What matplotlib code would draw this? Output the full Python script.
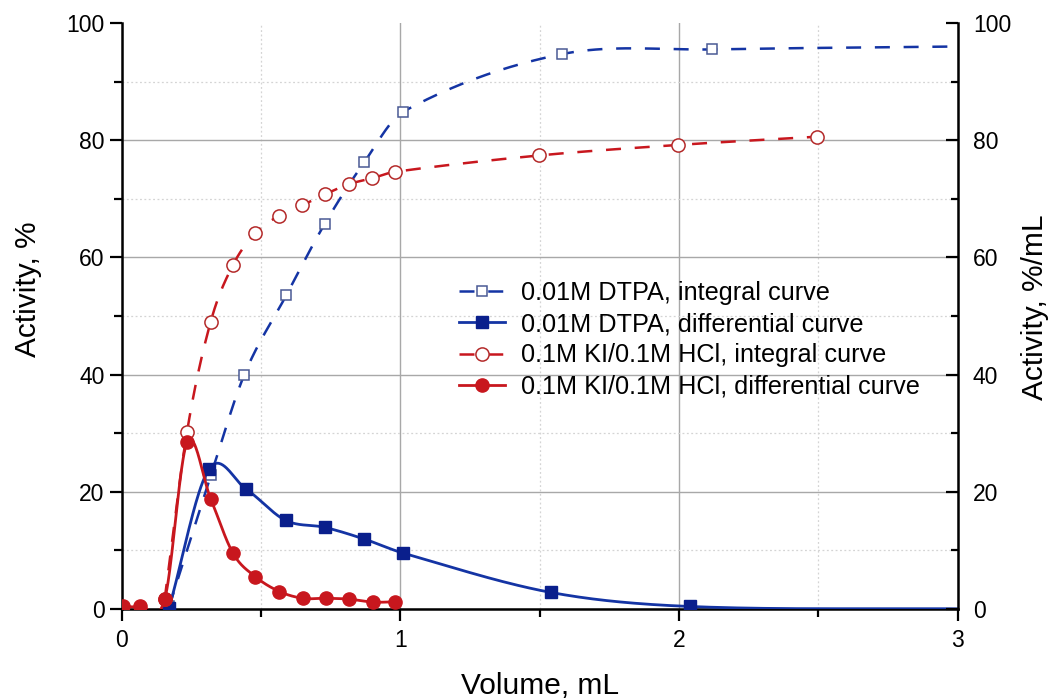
import numpy as np
import matplotlib
matplotlib.use('Agg')
import matplotlib.pyplot as plt
from matplotlib.lines import Line2D

plt.rcParams['font.family'] = ['Liberation Sans', 'DejaVu Sans']

# 0.01M DTPA
dtpa_int_x = [0.17, 0.32, 0.44, 0.59, 0.728, 0.871, 1.011, 1.58, 2.117]
dtpa_int_y = [0.4, 22.8, 40.0, 53.5, 65.7, 76.3, 84.9, 94.7, 95.5]
dtpa_int_end = (3.0, 96.0)          # curve runs on to the axis edge, no marker
dtpa_dif_x = [0.17, 0.312, 0.447, 0.588, 0.729, 0.871, 1.011, 1.54, 2.04]
dtpa_dif_y = [0.2, 23.8, 20.4, 15.1, 13.9, 11.9, 9.5, 2.8, 0.4]
dtpa_dif_end = (3.0, 0.0)

# 0.1M KI/0.1M HCl
ki_int_x = [0.154, 0.234, 0.319, 0.399, 0.479, 0.564, 0.648, 0.731, 0.815, 0.898, 0.980, 1.498, 1.998, 2.496]
ki_int_y = [1.7, 30.2, 49.0, 58.7, 64.1, 67.1, 68.9, 70.8, 72.5, 73.5, 74.6, 77.4, 79.2, 80.6]
ki_dif_x = [0.005, 0.067, 0.154, 0.234, 0.319, 0.399, 0.479, 0.566, 0.650, 0.733, 0.817, 0.901, 0.982]
ki_dif_y = [0.4, 0.4, 1.65, 28.4, 18.8, 9.5, 5.5, 2.95, 1.8, 1.8, 1.65, 1.15, 1.2]

labels = ['0.01M DTPA, integral curve', '0.01M DTPA, differential curve',
          '0.1M KI/0.1M HCl, integral curve', '0.1M KI/0.1M HCl, differential curve']

BLUE = '#1434a4'
BLUE_D = '#0a1f8c'
BLUE_O = '#4a5a94'
RED = '#c8171e'
RED_O = '#b42a2a'


def spline(x, y, n=40):
    # cubic hermite through the points, like Origin's spline connect
    x = np.asarray(x, float)
    y = np.asarray(y, float)
    m = np.empty_like(y)
    m[1:-1] = (y[2:] - y[:-2]) / (x[2:] - x[:-2])
    m[0] = (y[1] - y[0]) / (x[1] - x[0])
    m[-1] = (y[-1] - y[-2]) / (x[-1] - x[-2])
    t = np.linspace(0, 1, n, endpoint=False)
    h00 = 2 * t**3 - 3 * t**2 + 1
    h10 = t**3 - 2 * t**2 + t
    h01 = -2 * t**3 + 3 * t**2
    h11 = t**3 - t**2
    xs, ys = [], []
    for i in range(len(x) - 1):
        h = x[i + 1] - x[i]
        xs.append(x[i] + t * h)
        ys.append(h00 * y[i] + h10 * h * m[i] + h01 * y[i + 1] + h11 * h * m[i + 1])
    xs.append([x[-1]])
    ys.append([y[-1]])
    return np.concatenate(xs), np.concatenate(ys)


fig = plt.figure(figsize=(10.5, 6.99), dpi=100)
ax = fig.add_axes([0.116, 0.129, 0.796, 0.838])

dash = (0, (6, 5.5))
lw_d = 1.8
lw_s = 2.0

# DTPA integral
sx, sy = spline(dtpa_int_x + [dtpa_int_end[0]], dtpa_int_y + [dtpa_int_end[1]])
ax.plot(sx, sy, color=BLUE, lw=lw_d, ls=dash, zorder=3)
ax.plot(dtpa_int_x, dtpa_int_y, ls='none', marker='s', ms=7.5, mfc='white', mec=BLUE_O, mew=1.1, zorder=4)
# DTPA differential
sx, sy = spline(dtpa_dif_x + [dtpa_dif_end[0]], dtpa_dif_y + [dtpa_dif_end[1]])
ax.plot(sx, sy, color=BLUE, lw=lw_s, zorder=5)
ax.plot(dtpa_dif_x, dtpa_dif_y, ls='none', marker='s', ms=8.5, mfc=BLUE_D, mec=BLUE_D, zorder=6)
# KI integral
sx, sy = spline(ki_int_x, ki_int_y)
ax.plot(sx, sy, color=RED, lw=lw_d, ls=dash, zorder=7)
ax.plot(ki_int_x, ki_int_y, ls='none', marker='o', ms=9.5, mfc='white', mec=RED_O, mew=1.1, zorder=8)
# KI differential
sx, sy = spline(ki_dif_x, ki_dif_y)
ax.plot(sx, sy, color=RED, lw=lw_s, zorder=9)
ax.plot(ki_dif_x, ki_dif_y, ls='none', marker='o', ms=9.5, mfc=RED, mec=RED, zorder=10)

ax.set_xlim(0, 3)
ax.set_ylim(0, 100)
ax.set_xticks([0, 1, 2, 3])
ax.set_xticks([0.5, 1.5, 2.5], minor=True)
ax.set_yticks(np.arange(0, 101, 20))
ax.set_yticks(np.arange(10, 100, 20), minor=True)

ax.grid(which='major', color='#a8a8a8', lw=1.0, ls='-', zorder=0)
ax.grid(which='minor', color='#d4d4d4', lw=0.9, ls=(0, (1.5, 2)), zorder=0)
ax.get_ygridlines()[-1].set_visible(False)
ax.set_axisbelow(True)

for s in ['top', 'right']:
    ax.spines[s].set_visible(False)
for s in ['left', 'bottom']:
    ax.spines[s].set_linewidth(1.8)
ax.tick_params(which='major', direction='out', length=8.5, width=1.6, labelsize=16.5, pad=4)
ax.tick_params(which='minor', direction='out', length=6, width=1.6)
ax.tick_params(axis='x', pad=6)

ax2 = ax.twinx()
ax2.set_ylim(0, 100)
ax2.set_yticks(np.arange(0, 101, 20))
ax2.set_yticks(np.arange(10, 100, 20), minor=True)
for s in ['top', 'left', 'bottom']:
    ax2.spines[s].set_visible(False)
ax2.spines['right'].set_linewidth(1.8)
ax2.tick_params(which='major', direction='in', length=8.5, width=1.6, labelsize=16.5, pad=11)
ax2.tick_params(which='minor', direction='in', length=5, width=1.6)

ax.set_xlabel('Volume, mL', fontsize=21.5)
ax.xaxis.set_label_coords(0.5, -0.107)
ax.set_ylabel('Activity, %', fontsize=21.5)
ax.yaxis.set_label_coords(-0.096, 0.546)
ax2.set_ylabel('Activity, %/mL', fontsize=21.5, rotation=90)
ax2.yaxis.set_label_coords(1.076, 0.514)

handles = [
    Line2D([], [], color=BLUE, lw=lw_d, ls=dash, marker='s', ms=7.5, mfc='white', mec=BLUE_O, mew=1.1),
    Line2D([], [], color=BLUE, lw=lw_s, marker='s', ms=8.5, mfc=BLUE_D, mec=BLUE_D),
    Line2D([], [], color=RED, lw=lw_d, ls=dash, marker='o', ms=9.5, mfc='white', mec=RED_O, mew=1.1),
    Line2D([], [], color=RED, lw=lw_s, marker='o', ms=9.5, mfc=RED, mec=RED),
]
ax2.legend(handles, labels, loc='upper left', bbox_to_anchor=(0.404, 0.56), frameon=False,
           fontsize=18.2, handlelength=1.8, handletextpad=0.65, labelspacing=0.29,
           borderpad=0, borderaxespad=0)

fig.savefig('out.png', dpi=100)
